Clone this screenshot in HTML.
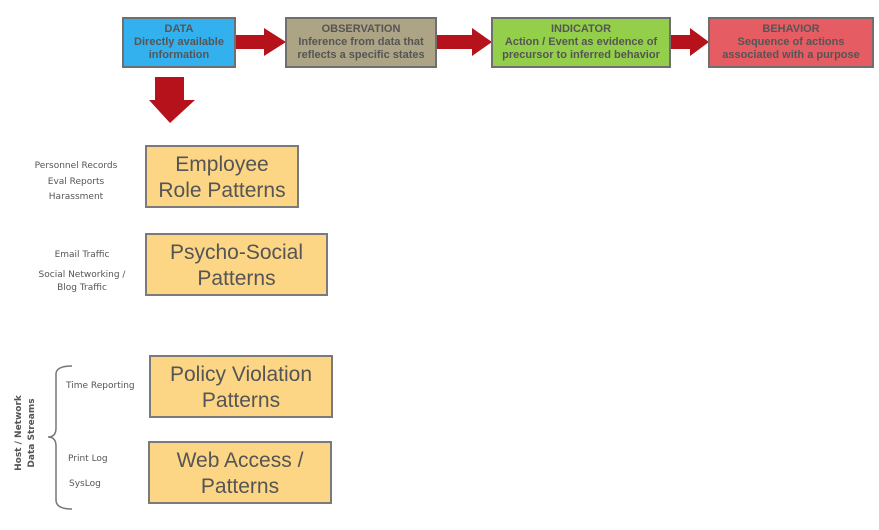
<!DOCTYPE html>
<html><head><meta charset="utf-8"><style>
body{margin:0;width:879px;height:530px;background:#fff;position:relative;overflow:hidden;font-family:"Liberation Sans",sans-serif}
.t{position:absolute;box-sizing:border-box;border:2px solid #6f6f6f;color:#555;font-weight:bold;font-size:11px;line-height:13px;text-align:center;padding-top:4px}
.o{position:absolute;box-sizing:border-box;border:2px solid #7a7a7a;background:#fcd585;color:#555;font-size:21px;line-height:26px;text-align:center;padding-top:5px}
.l{position:absolute;font-family:"DejaVu Sans",sans-serif;font-size:9px;color:#555;text-align:center;white-space:nowrap}
svg{position:absolute;left:0;top:0}
</style></head><body>
<svg width="879" height="530">
<g fill="#b5121b">
<polygon points="235,35 264,35 264,28 286,42 264,56 264,49 235,49"/>
<polygon points="436,35 472,35 472,28 492,42 472,56 472,49 436,49"/>
<polygon points="670,35 690,35 690,28 709,42 690,56 690,49 670,49"/>
<polygon points="155,77 184,77 184,100 195,100 170,123 149,100 155,100"/>
</g>
<path d="M72,366 Q56,366 56,374 L56,428 Q56,437 48,437 Q56,437 56,446 L56,500 Q56,509 72,509" fill="none" stroke="#777" stroke-width="1.5"/>
<text transform="translate(21,433) rotate(-90)" text-anchor="middle" font-family="DejaVu Sans,sans-serif" font-size="9" font-weight="bold" fill="#555">Host / Network</text>
<text transform="translate(34,433) rotate(-90)" text-anchor="middle" font-family="DejaVu Sans,sans-serif" font-size="9" font-weight="bold" fill="#555">Data Streams</text>
</svg>
<div class="t" style="left:122px;top:17px;width:114px;height:51px;background:#33b1ef">DATA<br>Directly available<br>information</div>
<div class="t" style="left:285px;top:17px;width:152px;height:51px;background:#aca484">OBSERVATION<br>Inference from data that<br>reflects a specific states</div>
<div class="t" style="left:491px;top:17px;width:180px;height:51px;background:#93cf4a">INDICATOR<br>Action / Event as evidence of<br>precursor to inferred behavior</div>
<div class="t" style="left:708px;top:17px;width:166px;height:51px;background:#e55c62">BEHAVIOR<br>Sequence of actions<br>associated with a purpose</div>
<div class="o" style="left:145px;top:145px;width:154px;height:63px">Employee<br>Role Patterns</div>
<div class="o" style="left:145px;top:233px;width:183px;height:63px">Psycho-Social<br>Patterns</div>
<div class="o" style="left:149px;top:355px;width:184px;height:63px">Policy Violation<br>Patterns</div>
<div class="o" style="left:148px;top:441px;width:184px;height:63px">Web Access /<br>Patterns</div>
<div class="l" style="left:26px;top:159px;width:100px;line-height:15.5px">Personnel Records<br>Eval Reports<br>Harassment</div>
<div class="l" style="left:32px;top:250px;width:100px">Email Traffic</div>
<div class="l" style="left:30px;top:269px;width:104px;line-height:13px">Social Networking /<br>Blog Traffic</div>
<div class="l" style="left:66px;top:381px">Time Reporting</div>
<div class="l" style="left:68px;top:454px">Print Log</div>
<div class="l" style="left:69px;top:479px">SysLog</div>
</body></html>
